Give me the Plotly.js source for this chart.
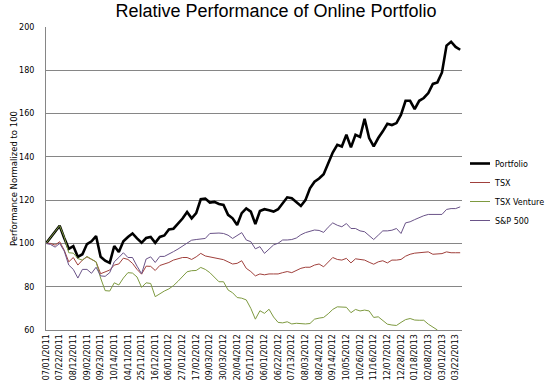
<!DOCTYPE html>
<html>
<head>
<meta charset="utf-8">
<script src="https://cdn.plot.ly/plotly-3.0.1.min.js"></script>
<style>html,body{margin:0;padding:0;background:#fff;}#chart{width:552px;height:387px;}</style>
</head>
<body>
<div id="chart"></div>
<script>
// Tick labels (every third weekly observation), as printed on the chart
const tickLabels = ["07/01/2011","07/22/2011","08/12/2011","09/02/2011","09/23/2011","10/14/2011","04/11/2011","25/11/2011","16/12/2011","06/01/2012","27/01/2012","17/02/2012","09/03/2012","30/03/2012","20/04/2012","05/11/2012","06/01/2012","06/22/2012","07/13/2012","08/03/2012","08/24/2012","09/14/2012","10/05/2012","10/26/2012","11/16/2012","12/07/2012","12/28/2012","01/18/2013","02/08/2013","03/01/2013","03/22/2013"];

// Weekly values, normalized to 100
const portfolio = [100,102.7,105.5,108.2,102.5,97.5,98.8,93.8,95,99.7,101,103.4,93.8,92,91,98.8,96,101,103,104.6,102.3,100.3,102.5,103,100.3,103,103.7,106.5,106.8,109,111.5,114.5,111.6,114,120.4,120.7,118.9,119.2,118.2,117.8,113.2,111.6,108.5,114,116.2,114.7,109,115,115.8,115.3,114.7,115.8,118.5,121.3,120.9,119,117.3,120,125.5,128.5,130,132,137,142,145.6,144.8,150.2,144.4,150.2,149.2,157.6,148.7,144.8,148.7,151.8,155.3,154.7,155.6,159.5,165.9,165.9,162.1,165.9,167.2,169.5,173.7,174.4,179,191.4,193.2,190.8,189.5];

const tsx = [100,100,99.2,100.8,96.9,91.5,93.5,90,92.3,93.8,92.6,91.5,86,86.9,87.7,90,90.5,93.2,92.6,90.8,88,85.8,89.5,89.4,87.5,89.8,90.5,91.2,92.3,93,93.5,93.5,92.6,93.8,95.4,94.2,93.8,93.5,93.2,92.5,91.5,90.5,90.8,92,88.5,87,85,85.9,85.5,85.9,85.9,85.9,86.5,87,86.5,87.5,88.5,89,89,90,90.5,89.2,91.5,93.5,92.6,92.3,93.1,91,92.9,92.6,92.3,91.3,90.4,91.5,92,91,92.3,92.3,92.6,94.1,95,95.5,95.7,95.7,96.1,95,95.1,95.3,96.1,95.7,95.7,95.7];

const tsxVenture = [100,103,105.5,108.2,103,95.7,95.5,93,92.3,94,92.8,91.5,84,78.2,78,81.8,80.8,84,86.5,86.3,84.5,79.7,81.8,81.5,75.4,76.9,78,79,80.5,82.5,84.5,86.9,87.4,87.5,88.9,88,86.5,84.5,82.3,82.3,78.5,77.2,75,74.7,73.9,70,65,68.9,67.7,69.6,66,63.5,63.3,63.8,62.8,63.1,62.8,62.8,63,65,65.5,65.8,67.5,69.5,70.7,70.7,70.5,68,69.5,68.8,69.2,68.8,65.8,66.1,64.5,62.7,62.3,62.1,63.5,64.8,65.3,64.6,64.5,64.5,62.7,61.2,60,null,null,null,null,null];

const sp500 = [100,99.5,98.3,100,96.5,90,88,84,88,88,86.2,89,85,84.8,86.5,91.5,93.5,95.7,93.5,93.5,89.5,86,92.8,93.8,91.2,94,94,95,96.2,97.4,98.8,100.3,101.5,101.8,102,102.3,104.6,104.8,104.8,104.6,103.8,102.3,103.7,105,101.6,100.8,97.5,98.5,95.4,97.3,99.3,100.1,101.6,101.6,101.8,102.5,104,105,105.6,106.2,106,105.1,107.5,109.5,108.4,107.7,109.2,106.9,106.9,105.8,105.4,103.5,101.8,103.8,105.8,105.8,106.1,106.9,104.6,109.5,110,111,112,112.8,113.4,113.4,113.4,113.4,115.7,116.1,116.1,116.9];

const seriesNames = ["Portfolio","TSX","TSX Venture","S&P 500"];

const idx = portfolio.map((_, i) => i);
const tickVals = tickLabels.map((_, k) => k * 3);

const font = "DejaVu Sans, Verdana, sans-serif";
function tr(name, y, color, width) {
  return {x: idx, y: y, name: name, type: "scatter", mode: "lines",
          line: {color: color, width: width}, connectgaps: false, cliponaxis: true};
}
const data = [
  tr(seriesNames[0], portfolio, "#000000", 2.6),
  tr(seriesNames[1], tsx, "#A0403C", 1),
  tr(seriesNames[2], tsxVenture, "#7E9A40", 1),
  tr(seriesNames[3], sp500, "#6A5388", 1)
];

const layout = {
  width: 552, height: 387,
  margin: {l: 46, r: 90, t: 27, b: 57, pad: 0, autoexpand: false},
  paper_bgcolor: "#ffffff", plot_bgcolor: "#ffffff",
  title: {text: "Relative Performance of Online Portfolio", x: 0.5, xref: "container",
          y: 1 - 11/387, yref: "container", yanchor: "middle",
          font: {family: "Liberation Sans, Arial, sans-serif", size: 18, color: "#000"}},
  showlegend: true,
  legend: {xref: "container", yref: "container", x: 455/552, xanchor: "left", y: 1 - 149/387, yanchor: "top",
           font: {family: font, size: 8, color: "#000"},
           tracegroupgap: 0, itemwidth: 30, bgcolor: "rgba(0,0,0,0)"},
  xaxis: {range: [0, 91.4], tickmode: "array", tickvals: tickVals, ticktext: tickLabels,
          tickangle: -90, tickfont: {family: font, size: 8, color: "#000"},
          showgrid: false, zeroline: false, showline: true, linecolor: "#868686", linewidth: 1,
          ticks: "", fixedrange: true, automargin: false},
  yaxis: {range: [60, 200], dtick: 20, tick0: 60, tickfont: {family: font, size: 8, color: "#000"},
          showgrid: true, gridcolor: "#868686", gridwidth: 1, zeroline: false,
          showline: true, linecolor: "#868686", linewidth: 1, ticks: "", ticklabelstandoff: 9,
          title: {text: "Performance Normalized to 100", font: {family: font, size: 8.5, color: "#000"}, standoff: 0},
          automargin: false, fixedrange: true}
};
Plotly.newPlot("chart", data, layout, {staticPlot: true, displayModeBar: false}).then(function (gd) {
  // shorten legend line samples to match the reference (line drawn just left of the label)
  gd.querySelectorAll(".legend .legendlines path").forEach(function (p) {
    p.setAttribute("d", "M15,0h20");
  });
});
</script>
</body>
</html>
